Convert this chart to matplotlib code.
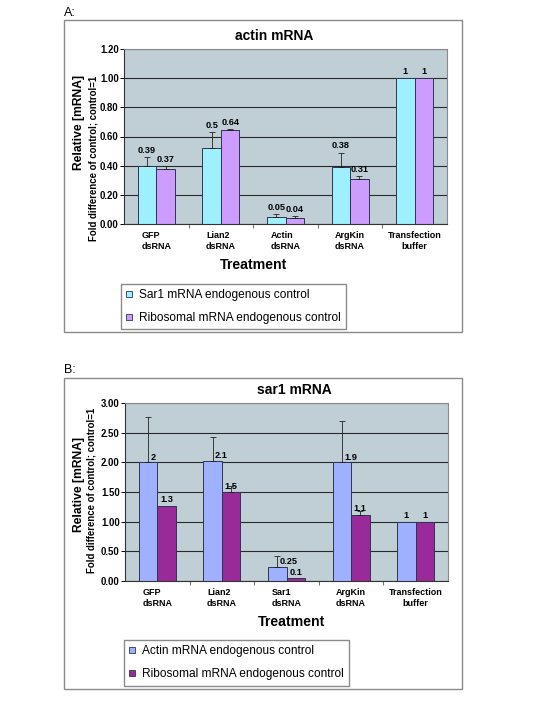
import numpy as np
import matplotlib
matplotlib.use("Agg")
import matplotlib.pyplot as plt
from matplotlib.patches import Patch, Rectangle

plt.rcParams['font.family'] = ['Liberation Sans', 'DejaVu Sans']

# panel A: actin mRNA
cats_a = ['GFP\ndsRNA', 'Lian2\ndsRNA', 'Actin\ndsRNA', 'ArgKin\ndsRNA', 'Transfection\nbuffer']
sar1_ctrl = [0.40, 0.52, 0.05, 0.39, 1.00]
sar1_err = [0.06, 0.11, 0.02, 0.10, 0.0]
sar1_lbl = ['0.39', '0.5', '0.05', '0.38', '1']
ribo_a = [0.375, 0.645, 0.04, 0.31, 1.00]
ribo_a_err = [0.025, 0.008, 0.015, 0.02, 0.0]
ribo_a_lbl = ['0.37', '0.64', '0.04', '0.31', '1']

# panel B: sar1 mRNA
cats_b = ['GFP\ndsRNA', 'Lian2\ndsRNA', 'Sar1\ndsRNA', 'ArgKin\ndsRNA', 'Transfection\nbuffer']
actin_ctrl = [2.00, 2.03, 0.24, 2.00, 1.00]
actin_err = [0.77, 0.39, 0.18, 0.70, 0.0]
actin_lbl = ['2', '2.1', '0.25', '1.9', '1']
ribo_b = [1.27, 1.50, 0.05, 1.12, 1.00]
ribo_b_err = [0.0, 0.10, 0.0, 0.06, 0.0]
ribo_b_lbl = ['1.3', '1.5', '0.1', '1.1', '1']

W, H = 540, 720
fig = plt.figure(figsize=(5.4, 7.2), dpi=100)


def fx(px):
    return px / W


def fy(py):
    return 1 - py / H


BG = '#c0cfd6'
bw = 0.286
LBL = 6.6


def panel(box, ax_rect, cats, v1, e1, l1, v2, e2, l2, c1, c2, ymax, ystep,
          title, title_x, treat_x, leg_names, leg_xy, ylab1, ylab2, style):
    # outer chart frame
    x0, y0, x1, y1 = box
    fig.patches.append(Rectangle((fx(x0), fy(y1)), fx(x1 - x0), (y1 - y0) / H,
                                 transform=fig.transFigure, fill=False,
                                 edgecolor='#8a8a8a', linewidth=1.0))
    l, t, r, b = ax_rect
    ax = fig.add_axes([fx(l), fy(b), fx(r - l), (b - t) / H])
    ax.set_facecolor(BG)
    x = np.arange(len(cats))
    ax.bar(x - bw / 2, v1, bw, color=c1, edgecolor='#2e3550', linewidth=0.7, zorder=2)
    ax.bar(x + bw / 2, v2, bw, color=c2, edgecolor='#2e3550', linewidth=0.7, zorder=2)
    for xs, v, e in [(x - bw / 2, v1, e1), (x + bw / 2, v2, e2)]:
        idx = [i for i in range(len(v)) if e[i] > 0]
        ax.errorbar(xs[idx], np.array(v)[idx],
                    yerr=[np.zeros(len(idx)), np.array(e)[idx]],
                    fmt='none', ecolor='#222222', elinewidth=0.6,
                    capsize=2, capthick=0.6, zorder=3)
    # data labels
    for i in range(len(cats)):
        if style == 'A':
            ax.annotate(l1[i], (x[i] - bw / 2, v1[i] + e1[i]), xytext=(0, 1.5),
                        textcoords='offset points', ha='center', va='bottom',
                        fontsize=LBL, fontweight='bold')
            ax.annotate(l2[i], (x[i] + bw / 2, v2[i] + e2[i]), xytext=(0, 1.5),
                        textcoords='offset points', ha='center', va='bottom',
                        fontsize=LBL, fontweight='bold')
        else:
            if e1[i] > 0:
                ax.annotate(l1[i], (x[i] - bw / 2, v1[i]), xytext=(1.5, 0.5),
                            textcoords='offset points', ha='left', va='bottom',
                            fontsize=LBL, fontweight='bold')
            else:
                ax.annotate(l1[i], (x[i] - bw / 2, v1[i]), xytext=(0, 1.5),
                            textcoords='offset points', ha='center', va='bottom',
                            fontsize=LBL, fontweight='bold')
            ax.annotate(l2[i], (x[i] + bw / 2, v2[i]), xytext=(0, 1),
                        textcoords='offset points', ha='center', va='bottom',
                        fontsize=LBL, fontweight='bold')
    ax.set_xlim(-0.5, len(cats) - 0.5)
    ax.set_ylim(0, ymax)
    ticks = np.arange(0, ymax + ystep / 2, ystep)
    ax.set_yticks(ticks)
    ax.set_yticklabels([f'{t:.2f}' for t in ticks], fontsize=6.9, fontweight='bold')
    ax.yaxis.grid(True, color='#2a2a2a', linewidth=0.8)
    ax.set_axisbelow(True)
    ax.set_xticks(x)
    ax.set_xticklabels(cats, fontsize=6.5, fontweight='bold', linespacing=1.35)
    for lab in ax.get_xticklabels()[:-1]:
        lab.set_multialignment('left')
    ax.set_xticks(np.arange(0.5, len(cats) - 1), minor=True)
    ax.tick_params(axis='x', which='major', length=0, pad=5)
    ax.tick_params(axis='x', which='minor', length=3, width=0.6, direction='out', color='#555555')
    ax.tick_params(axis='y', length=3, width=0.7, direction='out', pad=0.8)
    for s in ['top', 'right']:
        ax.spines[s].set_color('#8a8a8a')
        ax.spines[s].set_linewidth(0.8)
    for s in ['left', 'bottom']:
        ax.spines[s].set_color('#333333')
        ax.spines[s].set_linewidth(0.8)
    fig.text(fx(title_x), fy(t - 13), title, ha='center', va='center',
             fontsize=10, fontweight='bold')
    fig.text(fx(treat_x), fy(b + 41), 'Treatment', ha='center', va='center',
             fontsize=10.2, fontweight='bold')
    # two-line axis title
    fig.text(fx(ylab1[0]), fy(ylab1[1]), 'Relative [mRNA]', rotation=90,
             ha='center', va=ylab1[2], fontsize=8.7, fontweight='bold')
    fig.text(fx(ylab2[0]), fy(ylab2[1]), 'Fold difference of control; control=1',
             rotation=90, ha='center', va=ylab2[2], fontsize=6.9, fontweight='bold')
    handles = [Patch(facecolor=c1, edgecolor='#2e3550', linewidth=0.6, label=leg_names[0]),
               Patch(facecolor=c2, edgecolor='#2e3550', linewidth=0.6, label=leg_names[1])]
    fig.legend(handles=handles, loc='upper left', bbox_to_anchor=(fx(leg_xy[0]), fy(leg_xy[1])),
               fontsize=8.6, frameon=True, fancybox=False, edgecolor='#8a8a8a',
               framealpha=1, borderpad=0.45, handlelength=0.45, handleheight=0.45,
               handletextpad=0.6, labelspacing=0.9, borderaxespad=0)
    return ax


panel((64, 20, 462, 332), (124, 49, 447, 224), cats_a,
      sar1_ctrl, sar1_err, sar1_lbl, ribo_a, ribo_a_err, ribo_a_lbl,
      '#9ff0ff', '#cc9cff', 1.2, 0.2, 'actin mRNA', 274, 254,
      ['Sar1 mRNA endogenous control', 'Ribosomal mRNA endogenous control'],
      (121, 284), (79, 75, 'top'), (93, 76, 'top'), 'A')

panel((64, 378, 462, 689), (125, 403, 448, 581), cats_b,
      actin_ctrl, actin_err, actin_lbl, ribo_b, ribo_b_err, ribo_b_lbl,
      '#9fb0ff', '#992a99', 3.0, 0.5, 'sar1 mRNA', 294, 291,
      ['Actin mRNA endogenous control', 'Ribosomal mRNA endogenous control'],
      (124, 640), (79, 484, 'center'), (92, 490, 'center'), 'B')

fig.text(fx(64), fy(12.5), 'A:', ha='left', va='center', fontsize=9)
fig.text(fx(64), fy(370), 'B:', ha='left', va='center', fontsize=9)

fig.savefig('out.png', dpi=100, facecolor='white')
